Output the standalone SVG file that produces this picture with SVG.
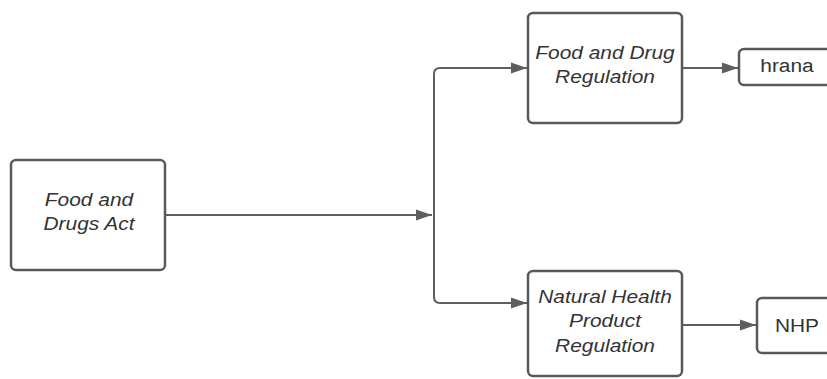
<svg xmlns="http://www.w3.org/2000/svg" width="827" height="379" viewBox="0 0 827 379">
  <style>
    .box { fill: #ffffff; stroke: #595959; stroke-width: 2.5; }
    .lbl { font-family: "Liberation Sans", Arial, sans-serif; font-size: 19px; fill: #333333; text-anchor: middle; }
    .it { font-style: italic; }
    .conn { fill: none; stroke: #5e5e5e; stroke-width: 2; }
  </style>
  <defs>
    <marker id="arr" markerUnits="userSpaceOnUse" markerWidth="17" markerHeight="12" refX="16" refY="6" orient="auto">
      <path d="M0,0.5 L16,6 L0,11.5 z" fill="#5e5e5e"/>
    </marker>
  </defs>
  <rect width="827" height="379" fill="#ffffff"/>

  <g id="connectors">
    <path class="conn" d="M165,215 L432,215" marker-end="url(#arr)"/>
    <path class="conn" d="M527,68 L440,68 Q434,68 434,74 L434,297 Q434,303 440,303 L527,303" />
    <path class="conn" d="M500,68 L527,68" marker-end="url(#arr)"/>
    <path class="conn" d="M500,303 L527,303" marker-end="url(#arr)"/>
    <path class="conn" d="M682,68 L738,68" marker-end="url(#arr)"/>
    <path class="conn" d="M682,325 L756,325" marker-end="url(#arr)"/>
  </g>

  <g id="food-drugs-act">
    <rect class="box" x="11" y="160" width="154" height="110" rx="5"/>
    <g transform="translate(89,0) scale(1.1,1)">
      <text class="lbl it" x="0" y="206">Food and</text>
      <text class="lbl it" x="0" y="230">Drugs Act</text>
    </g>
  </g>

  <g id="food-drug-regulation">
    <rect class="box" x="528" y="13" width="154" height="110" rx="5"/>
    <g transform="translate(605,0) scale(1.1,1)">
      <text class="lbl it" x="0" y="59">Food and Drug</text>
      <text class="lbl it" x="0" y="83">Regulation</text>
    </g>
  </g>

  <g id="nhp-regulation">
    <rect class="box" x="528" y="271" width="154" height="105" rx="5"/>
    <g transform="translate(605,0) scale(1.1,1)">
      <text class="lbl it" x="0" y="303">Natural Health</text>
      <text class="lbl it" x="0" y="327">Product</text>
      <text class="lbl it" x="0" y="352">Regulation</text>
    </g>
  </g>

  <g id="hrana">
    <rect class="box" x="739" y="49" width="96" height="36" rx="5"/>
    <g transform="translate(787,0) scale(1.1,1)">
      <text class="lbl" x="0" y="72">hrana</text>
    </g>
  </g>

  <g id="nhp">
    <rect class="box" x="757" y="298" width="80" height="55" rx="5"/>
    <g transform="translate(797,0) scale(1.1,1)">
      <text class="lbl" x="0" y="332">NHP</text>
    </g>
  </g>
</svg>
